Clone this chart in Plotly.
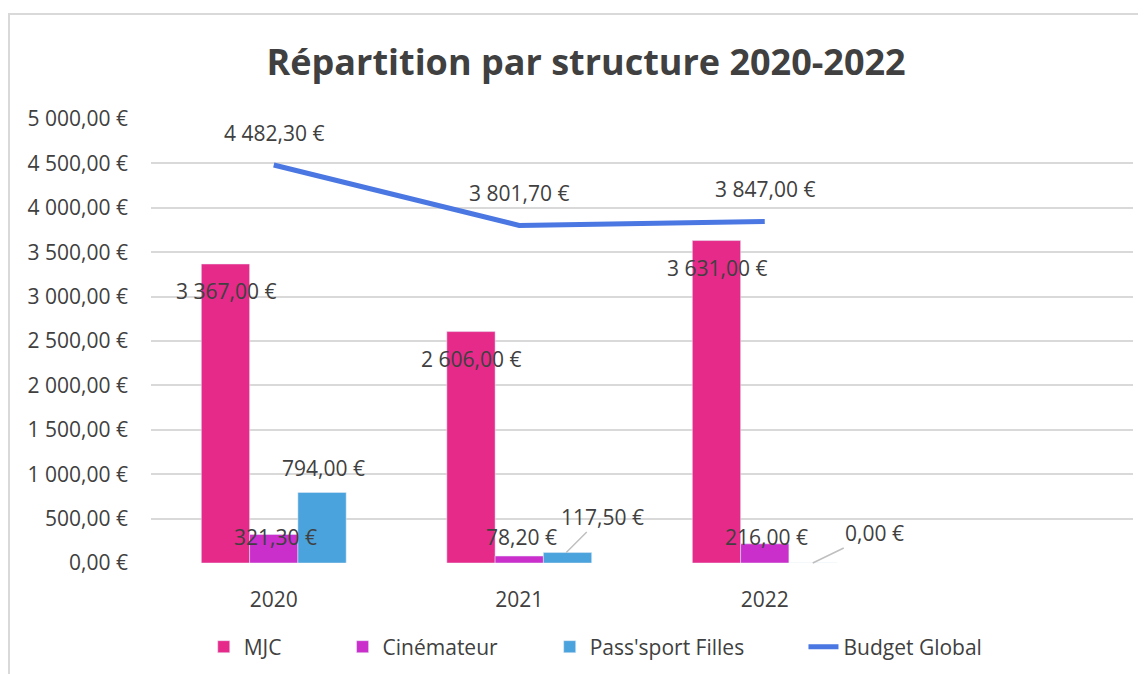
import plotly.graph_objects as go

# Data
years = ["2020", "2021", "2022"]
mjc = [3367.00, 2606.00, 3631.00]
cinemateur = [321.30, 78.20, 216.00]
passport = [794.00, 117.50, 0.00]
budget = [4482.30, 3801.70, 3847.00]

FONT = "Open Sans"
TXT = "#404040"
FS = 21


def eur(v):
    return f"{v:,.2f}".replace(",", " ").replace(".", ",") + " €"


fig = go.Figure()
fig.add_trace(go.Bar(x=years, y=mjc, name="MJC", marker_color="#E62A8A", legend="legend"))
fig.add_trace(go.Bar(x=years, y=cinemateur, name="Cinémateur", marker_color="#CB2FCB",
                     legend="legend2"))
fig.add_trace(go.Bar(x=years, y=passport, name="Pass'sport Filles", marker_color="#4AA3DC",
                     legend="legend3"))
fig.add_trace(go.Scatter(x=years, y=budget, name="Budget Global", mode="lines",
                         line=dict(color="#4A77E2", width=5), legend="legend4"))

# data labels, placed roughly like Excel did
ann = []
for i, v in enumerate(mjc):
    ann.append(dict(x=i, y=v, text=eur(v), showarrow=False, xshift=-48, yshift=-27))
for i, v in enumerate(cinemateur):
    ann.append(dict(x=i, y=0, text=eur(v), showarrow=False, xshift=2, yshift=26))
ann.append(dict(x=0, y=passport[0], text=eur(passport[0]), showarrow=False,
                xshift=50, yshift=24))
ann.append(dict(x=1, y=passport[1], text=eur(passport[1]), showarrow=True,
                arrowhead=0, arrowwidth=1.5, arrowcolor="#BFBFBF", standoff=0,
                xshift=47, ax=36, ay=-36))
ann.append(dict(x=2, y=passport[2], text=eur(passport[2]), showarrow=True,
                arrowhead=0, arrowwidth=1.5, arrowcolor="#BFBFBF", standoff=0,
                xshift=48, ax=62, ay=-30))
for i, v in enumerate(budget):
    ann.append(dict(x=i, y=v, text=eur(v), showarrow=False, yshift=32))
for a in ann:
    a["xref"] = "x"
    a["yref"] = "y"
    a["font"] = dict(family=FONT, size=FS, color=TXT)

leg = dict(orientation="h", xref="container", yref="container", xanchor="left",
           yanchor="middle", y=0.0405, font=dict(size=FS, color=TXT),
           bgcolor="rgba(0,0,0,0)")

# the page has an 8px body margin, so the figure is drawn 8px in and 8px down
fig.update_layout(
    width=1138, height=666,
    margin=dict(l=143, r=13, t=111, b=111),
    plot_bgcolor="white", paper_bgcolor="white",
    barmode="group", bargap=0.41, bargroupgap=0,
    separators=", ",
    font=dict(family=FONT, size=FS, color=TXT),
    title=dict(text="<b>Répartition par structure 2020-2022</b>",
               x=0.508, xanchor="center", y=0.918, yanchor="middle",
               font=dict(family=FONT, size=36, color="#404040")),
    xaxis=dict(type="category", range=[-0.5, 3.5], showgrid=False, showline=False,
               ticks="", ticklabelstandoff=22, tickfont=dict(size=FS, color=TXT)),
    yaxis=dict(range=[0, 5000], dtick=500, tickformat=",.2f", ticksuffix=" €",
               showgrid=True, gridcolor="#D9D9D9", gridwidth=1.5, zeroline=False,
               ticklabelstandoff=22, tickfont=dict(size=FS, color=TXT)),
    legend=dict(leg, x=0.172),
    legend2=dict(leg, x=0.294),
    legend3=dict(leg, x=0.476),
    legend4=dict(leg, x=0.699),
    annotations=ann,
    showlegend=True,
)

# light frame around the chart
fig.add_shape(type="rect", xref="paper", yref="paper",
              x0=-0.1446, x1=1.2, y0=-0.5, y1=1.2365,
              line=dict(color="#D9D9D9", width=2), layer="below")

fig.write_html("out.html")
